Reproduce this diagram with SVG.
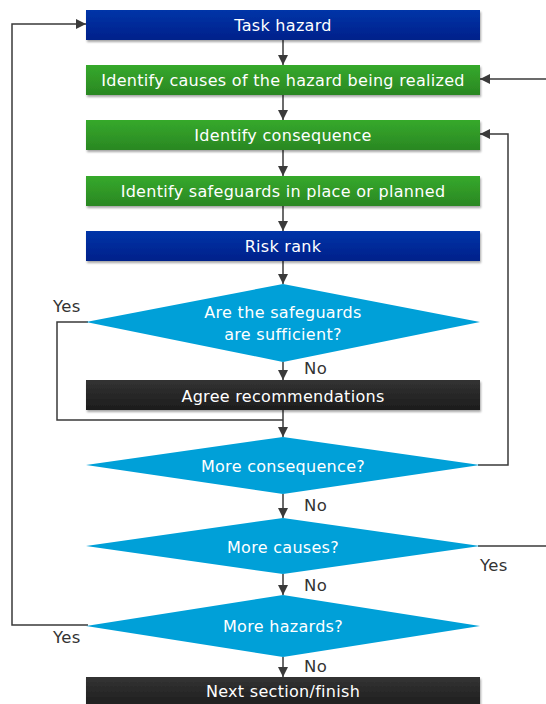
<svg xmlns="http://www.w3.org/2000/svg" width="546" height="704" viewBox="0 0 546 704">
<defs>
<linearGradient id="gBlue" x1="0" y1="0" x2="0" y2="1"><stop offset="0" stop-color="#0035a8"/><stop offset="1" stop-color="#00208a"/></linearGradient>
<linearGradient id="gGreen" x1="0" y1="0" x2="0" y2="1"><stop offset="0" stop-color="#36a92c"/><stop offset="1" stop-color="#2a8722"/></linearGradient>
<linearGradient id="gDark" x1="0" y1="0" x2="0" y2="1"><stop offset="0" stop-color="#333333"/><stop offset="1" stop-color="#1c1c1c"/></linearGradient>
<filter id="sh" x="-5%" y="-20%" width="110%" height="150%"><feDropShadow dx="1" dy="2" stdDeviation="1.2" flood-color="#000" flood-opacity="0.35"/></filter>
<marker id="ah" viewBox="0 0 10 10" refX="10" refY="5" markerWidth="12" markerHeight="10" markerUnits="userSpaceOnUse" orient="auto"><path d="M0,0 L10,5 L0,10 z" fill="#3a3a3a"/></marker>
<style>
.t{font-family:"DejaVu Sans",Verdana,sans-serif;font-size:16px;letter-spacing:0.3px;fill:#ffffff;text-anchor:middle;dominant-baseline:central}
.l{font-family:"DejaVu Sans",Verdana,sans-serif;font-size:16.5px;letter-spacing:0.3px;fill:#333333;dominant-baseline:central}
.c{fill:none;stroke:#3a3a3a;stroke-width:1.5}
.d{fill:#00a0d8}
</style>
</defs>
<g id="connectors">
<path class="c" d="M283,40 V65" marker-end="url(#ah)"/>
<path class="c" d="M283,95 V120" marker-end="url(#ah)"/>
<path class="c" d="M283,150 V176" marker-end="url(#ah)"/>
<path class="c" d="M283,206 V231" marker-end="url(#ah)"/>
<path class="c" d="M283,261 V284" marker-end="url(#ah)"/>
<path class="c" d="M283,362 V380" marker-end="url(#ah)"/>
<path class="c" d="M283,410 V437" marker-end="url(#ah)"/>
<path class="c" d="M88,322 H57 V420 H283"/>
<path class="c" d="M283,494 V518" marker-end="url(#ah)"/>
<path class="c" d="M283,574 V595" marker-end="url(#ah)"/>
<path class="c" d="M283,657 V677" marker-end="url(#ah)"/>
<path class="c" d="M88,625 H12 V24 H86" marker-end="url(#ah)"/>
<path class="c" d="M478,465 H508 V134 H480" marker-end="url(#ah)"/>
<path class="c" d="M478,546 H546"/>
<path class="c" d="M546,79 H480" marker-end="url(#ah)"/>
</g>
<g id="task-hazard"><rect x="86" y="10" width="394" height="30" fill="url(#gBlue)" filter="url(#sh)"/><text class="t" x="283" y="25">Task hazard</text></g>
<g id="identify-causes"><rect x="86" y="65" width="394" height="30" fill="url(#gGreen)" filter="url(#sh)"/><text class="t" x="283" y="80">Identify causes of the hazard being realized</text></g>
<g id="identify-consequence"><rect x="86" y="120" width="394" height="30" fill="url(#gGreen)" filter="url(#sh)"/><text class="t" x="283" y="135">Identify consequence</text></g>
<g id="identify-safeguards"><rect x="86" y="176" width="394" height="30" fill="url(#gGreen)" filter="url(#sh)"/><text class="t" x="283" y="191">Identify safeguards in place or planned</text></g>
<g id="risk-rank"><rect x="86" y="231" width="394" height="30" fill="url(#gBlue)" filter="url(#sh)"/><text class="t" x="283" y="246">Risk rank</text></g>
<g id="safeguards-sufficient"><polygon class="d" points="283,284 480,322 283,362 86,322"/><text class="t" x="283" y="312">Are the safeguards</text><text class="t" x="283" y="334">are sufficient?</text></g>
<g id="agree-recommendations"><rect x="86" y="380" width="394" height="30" fill="url(#gDark)" filter="url(#sh)"/><text class="t" x="283" y="396">Agree recommendations</text></g>
<g id="more-consequence"><polygon class="d" points="283,437 480,465 283,494 86,465"/><text class="t" x="283" y="466">More consequence?</text></g>
<g id="more-causes"><polygon class="d" points="283,518 480,546 283,574 86,546"/><text class="t" x="283" y="547">More causes?</text></g>
<g id="more-hazards"><polygon class="d" points="283,595 480,626 283,657 86,626"/><text class="t" x="283" y="626">More hazards?</text></g>
<g id="next-section"><rect x="86" y="677" width="394" height="32" fill="url(#gDark)" filter="url(#sh)"/><text class="t" x="283" y="691">Next section/finish</text></g>
<g id="labels">
<text class="l" x="53" y="306">Yes</text>
<text class="l" x="304" y="368">No</text>
<text class="l" x="304" y="505">No</text>
<text class="l" x="480" y="565">Yes</text>
<text class="l" x="304" y="585">No</text>
<text class="l" x="53" y="637">Yes</text>
<text class="l" x="304" y="666">No</text>
</g>
</svg>
